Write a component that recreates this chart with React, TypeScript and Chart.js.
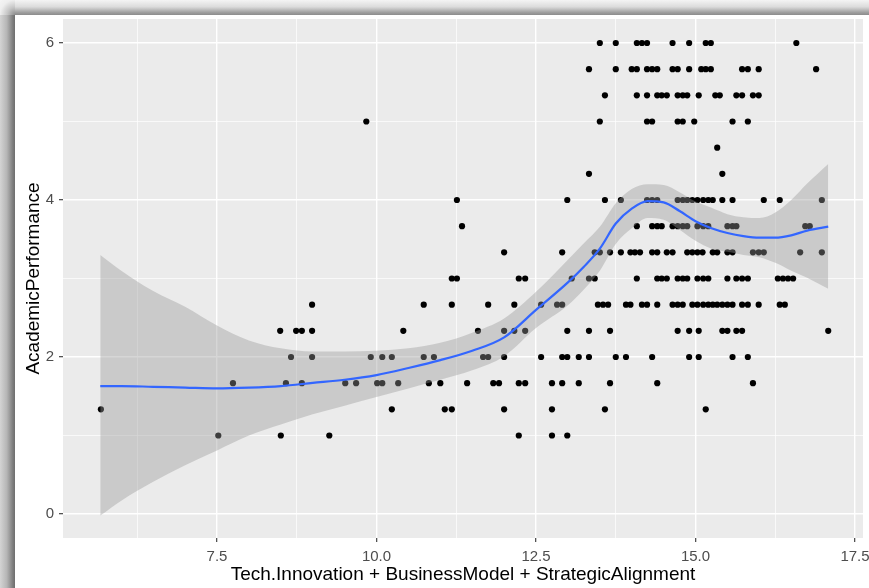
import React, { useEffect, useRef } from "react";
import { Chart, registerables } from "chart.js";

Chart.register(...registerables);

// ---------- axis definition ----------
const X_MIN = 5.086;
const X_MAX = 17.625;
const Y_MIN = -0.306;
const Y_MAX = 6.306;
const xMajorTicks = [7.5, 10.0, 12.5, 15.0, 17.5];
const xMinorTicks = [6.25, 8.75, 11.25, 13.75, 16.25];
const xTickLabels = ["7.5", "10.0", "12.5", "15.0", "17.5"];
const yMajorTicks = [0, 2, 4, 6];
const yMinorTicks = [1, 3, 5];
const yTickLabels = ["0", "2", "4", "6"];
const xTitle = "Tech.Innovation + BusinessModel + StrategicAlignment";
const yTitle = "AcademicPerformance";

// ---------- scatter points (x values for each AcademicPerformance level) ----------
const xsAt6_000 = [13.5, 13.75, 14.08, 14.16, 14.24, 14.64, 14.9, 15.16, 15.24, 16.58];
const xsAt5_667 = [13.33, 13.75, 14.0, 14.08, 14.24, 14.32, 14.4, 14.64, 14.72, 14.9, 15.09, 15.16, 15.24, 15.73, 15.82, 15.99, 16.89];
const xsAt5_333 = [13.58, 14.08, 14.24, 14.4, 14.47, 14.55, 14.72, 14.8, 14.87, 15.05, 15.31, 15.38, 15.64, 15.73, 15.9, 15.99];
const xsAt5_000 = [9.84, 13.5, 14.24, 14.32, 14.72, 14.8, 14.98, 15.58, 15.82];
const xsAt4_667 = [15.34];
const xsAt4_333 = [13.33, 15.42];
const xsAt4_000 = [11.26, 12.99, 13.58, 13.83, 14.24, 14.32, 14.4, 14.72, 14.8, 14.87, 14.95, 15.03, 15.12, 15.2, 15.27, 15.42, 15.58, 16.07, 16.32, 16.98];
const xsAt3_667 = [11.34, 14.08, 14.32, 14.4, 14.47, 14.64, 14.72, 14.8, 14.87, 15.03, 15.12, 15.2, 15.5, 15.58, 15.64, 16.72, 16.79];
const xsAt3_333 = [12.0, 12.91, 13.42, 13.5, 13.66, 13.83, 13.98, 14.05, 14.13, 14.32, 14.4, 14.55, 14.64, 14.87, 14.95, 15.03, 15.11, 15.27, 15.34, 15.5, 15.58, 15.9, 15.99, 16.07, 16.64, 16.98];
const xsAt3_000 = [11.18, 11.26, 12.23, 12.33, 13.06, 13.33, 13.42, 14.08, 14.4, 14.47, 14.55, 14.72, 14.8, 14.87, 15.03, 15.12, 15.2, 15.5, 15.64, 15.73, 15.82, 16.29, 16.37, 16.45, 16.53];
const xsAt2_667 = [8.99, 10.74, 11.18, 11.75, 12.16, 12.58, 12.83, 12.91, 13.47, 13.55, 13.63, 13.91, 13.98, 14.16, 14.24, 14.4, 14.64, 14.72, 14.8, 14.95, 15.03, 15.12, 15.2, 15.27, 15.34, 15.42, 15.5, 15.58, 15.73, 15.82, 15.99, 16.32, 16.4];
const xsAt2_333 = [8.49, 8.74, 8.83, 8.99, 10.42, 11.59, 12.0, 12.16, 12.33, 12.99, 13.33, 13.66, 14.72, 14.9, 15.05, 15.42, 15.5, 15.64, 15.73, 17.08];
const xsAt2_000 = [8.66, 8.99, 9.91, 10.09, 10.24, 10.74, 10.9, 11.67, 11.75, 12.0, 12.58, 12.91, 12.99, 13.17, 13.33, 13.75, 13.91, 14.32, 14.9, 15.05, 15.58, 15.82];
const xsAt1_667 = [7.75, 8.58, 8.83, 9.51, 9.68, 10.01, 10.09, 10.34, 10.82, 11.0, 11.42, 11.83, 11.92, 12.23, 12.33, 12.75, 12.91, 13.17, 13.66, 14.4, 15.9];
const xsAt1_333 = [5.68, 10.24, 11.07, 11.18, 12.0, 12.75, 13.58, 15.16];
const xsAt1_000 = [7.52, 8.5, 9.26, 12.23, 12.75, 12.99];

const scatterRows: { y: number; xs: number[] }[] = [
  { y: 6.0, xs: xsAt6_000 },
  { y: 5.667, xs: xsAt5_667 },
  { y: 5.333, xs: xsAt5_333 },
  { y: 5.0, xs: xsAt5_000 },
  { y: 4.667, xs: xsAt4_667 },
  { y: 4.333, xs: xsAt4_333 },
  { y: 4.0, xs: xsAt4_000 },
  { y: 3.667, xs: xsAt3_667 },
  { y: 3.333, xs: xsAt3_333 },
  { y: 3.0, xs: xsAt3_000 },
  { y: 2.667, xs: xsAt2_667 },
  { y: 2.333, xs: xsAt2_333 },
  { y: 2.0, xs: xsAt2_000 },
  { y: 1.667, xs: xsAt1_667 },
  { y: 1.333, xs: xsAt1_333 },
  { y: 1.0, xs: xsAt1_000 },
];

// ---------- loess smooth with confidence band ----------
const smoothX = [5.67, 6.0, 6.5, 7.0, 7.5, 8.0, 8.5, 9.0, 9.5, 10.0, 10.5, 11.0, 11.5, 12.0, 12.5, 13.0, 13.25, 13.5, 13.75, 14.0, 14.25, 14.5, 14.75, 15.0, 15.25, 15.5, 15.75, 16.0, 16.25, 16.5, 16.75, 17.08];
const smoothFit = [1.63, 1.63, 1.62, 1.61, 1.6, 1.61, 1.63, 1.67, 1.71, 1.77, 1.86, 1.96, 2.08, 2.25, 2.6, 2.95, 3.15, 3.38, 3.7, 3.89, 3.985, 3.97, 3.86, 3.73, 3.64, 3.58, 3.54, 3.52, 3.52, 3.55, 3.61, 3.66];
const smoothUpper = [3.3, 3.1, 2.84, 2.64, 2.4, 2.21, 2.11, 2.07, 2.07, 2.08, 2.11, 2.18, 2.31, 2.49, 2.83, 3.24, 3.45, 3.66, 3.96, 4.14, 4.2, 4.19, 4.1, 3.98, 3.9, 3.82, 3.78, 3.77, 3.84, 4.0, 4.21, 4.46];
const smoothLower = [-0.02, 0.17, 0.41, 0.62, 0.81, 1.0, 1.14, 1.27, 1.38, 1.49, 1.6, 1.71, 1.83, 2.01, 2.37, 2.66, 2.86, 3.1, 3.44, 3.64, 3.77, 3.75, 3.62, 3.48, 3.38, 3.34, 3.3, 3.27, 3.2, 3.1, 3.01, 2.87];

const FONT = "'Liberation Sans', Arial, Helvetica, sans-serif";

const near = (list: number[], v: number) => list.findIndex((m) => Math.abs(m - v) < 1e-6);

const panelBackground = {
  id: "panelBackground",
  beforeDraw(chart: any) {
    const { ctx, chartArea: a } = chart;
    ctx.save();
    ctx.fillStyle = "#EBEBEB";
    ctx.fillRect(a.left, a.top, a.right - a.left, a.bottom - a.top);
    ctx.restore();
  },
};

export default function App() {
  const canvasRef = useRef<HTMLCanvasElement | null>(null);

  useEffect(() => {
    const canvas = canvasRef.current;
    if (!canvas) return;

    const points: { x: number; y: number }[] = [];
    scatterRows.forEach((r) => r.xs.forEach((x) => points.push({ x, y: r.y })));
    const fitData = smoothX.map((x, i) => ({ x, y: smoothFit[i] }));
    const upperData = smoothX.map((x, i) => ({ x, y: smoothUpper[i] }));
    const lowerData = smoothX.map((x, i) => ({ x, y: smoothLower[i] }));

    const xGrid = [...xMinorTicks, ...xMajorTicks].sort((a, b) => a - b);
    const yGrid = [...yMinorTicks, ...yMajorTicks].sort((a, b) => a - b);

    const chart = new Chart(canvas, {
      type: "scatter",
      data: {
        datasets: [
          {
            type: "scatter",
            data: points,
            backgroundColor: "#000000",
            borderWidth: 0,
            pointRadius: 3.1,
            pointHoverRadius: 3.1,
            order: 4,
          } as any,
          {
            type: "line",
            data: lowerData,
            borderWidth: 0,
            borderColor: "rgba(0,0,0,0)",
            pointRadius: 0,
            fill: false,
            cubicInterpolationMode: "monotone",
            order: 3,
          } as any,
          {
            type: "line",
            data: upperData,
            borderWidth: 0,
            borderColor: "rgba(0,0,0,0)",
            backgroundColor: "rgba(153,153,153,0.4)",
            pointRadius: 0,
            fill: "-1",
            cubicInterpolationMode: "monotone",
            order: 2,
          } as any,
          {
            type: "line",
            data: fitData,
            borderColor: "#3366FF",
            borderWidth: 2.2,
            pointRadius: 0,
            fill: false,
            cubicInterpolationMode: "monotone",
            order: 1,
          } as any,
        ],
      },
      options: {
        responsive: false,
        animation: false,
        events: [],
        layout: { padding: { left: 15, top: 19, right: 6, bottom: 0 } },
        plugins: {
          legend: { display: false },
          tooltip: { enabled: false },
          title: { display: false },
        },
        scales: {
          x: {
            type: "linear",
            min: X_MIN,
            max: X_MAX,
            afterBuildTicks: (s: any) => {
              s.ticks = xGrid.map((v) => ({ value: v }));
            },
            afterFit: (s: any) => {
              s.height = 50;
              s.paddingLeft = 0;
              s.paddingRight = 0;
            },
            border: { display: false },
            grid: {
              color: "#FFFFFF",
              lineWidth: (c: any) => (near(xMajorTicks, c.tick?.value) >= 0 ? 1.4 : 0.7),
              tickLength: 4,
              tickWidth: 1.1,
              tickColor: (c: any) => (near(xMajorTicks, c.tick?.value) >= 0 ? "#333333" : "rgba(0,0,0,0)"),
            },
            ticks: {
              autoSkip: false,
              maxRotation: 0,
              minRotation: 0,
              padding: 6,
              color: "#4D4D4D",
              font: { family: FONT, size: 15 },
              callback: (v: any) => {
                const i = near(xMajorTicks, Number(v));
                return i >= 0 ? xTickLabels[i] : "";
              },
            },
            title: {
              display: true,
              text: xTitle,
              color: "#000000",
              font: { family: FONT, size: 19 },
              padding: { top: 0, bottom: 1.5 },
            },
          },
          y: {
            type: "linear",
            min: Y_MIN,
            max: Y_MAX,
            afterBuildTicks: (s: any) => {
              s.ticks = yGrid.map((v) => ({ value: v }));
            },
            afterFit: (s: any) => {
              s.width = 48;
              s.paddingTop = 0;
              s.paddingBottom = 0;
            },
            border: { display: false },
            grid: {
              color: "#FFFFFF",
              lineWidth: (c: any) => (near(yMajorTicks, c.tick?.value) >= 0 ? 1.4 : 0.7),
              tickLength: 4,
              tickWidth: 1.1,
              tickColor: (c: any) => (near(yMajorTicks, c.tick?.value) >= 0 ? "#333333" : "rgba(0,0,0,0)"),
            },
            ticks: {
              autoSkip: false,
              padding: 5,
              color: "#4D4D4D",
              font: { family: FONT, size: 15 },
              callback: (v: any) => {
                const i = near(yMajorTicks, Number(v));
                return i >= 0 ? yTickLabels[i] : "";
              },
            },
            title: {
              display: true,
              text: yTitle,
              color: "#000000",
              font: { family: FONT, size: 19 },
              padding: { top: 7, bottom: 0 },
            },
          },
        },
      },
      plugins: [panelBackground],
    } as any);

    return () => chart.destroy();
  }, []);

  return (
    <div
      style={{
        position: "absolute",
        left: 0,
        top: 0,
        width: 869,
        height: 588,
        background: "#FFFFFF",
        overflow: "hidden",
      }}
    >
      <div
        style={{
          position: "absolute",
          left: 15,
          top: 0,
          width: 854,
          height: 15,
          background: "linear-gradient(to bottom, #f4f4f4 0%, #dcdcdc 45%, #9c9c9c 85%, #8c8c8c 100%)",
        }}
      />
      <div
        style={{
          position: "absolute",
          left: 0,
          top: 15,
          width: 15,
          height: 573,
          background: "linear-gradient(to right, #d4d4d4 0%, #b6b6b6 45%, #7e7e7e 85%, #6e6e6e 100%)",
        }}
      />
      <div
        style={{
          position: "absolute",
          left: 0,
          top: 0,
          width: 15,
          height: 15,
          background: "radial-gradient(circle at 100% 100%, #8c8c8c 0px, #c8c8c8 8px, #eeeeee 15px, #f6f6f6 22px)",
        }}
      />
      <canvas
        ref={canvasRef}
        width={869}
        height={588}
        style={{ position: "absolute", left: 0, top: 0, display: "block" }}
      />
    </div>
  );
}
